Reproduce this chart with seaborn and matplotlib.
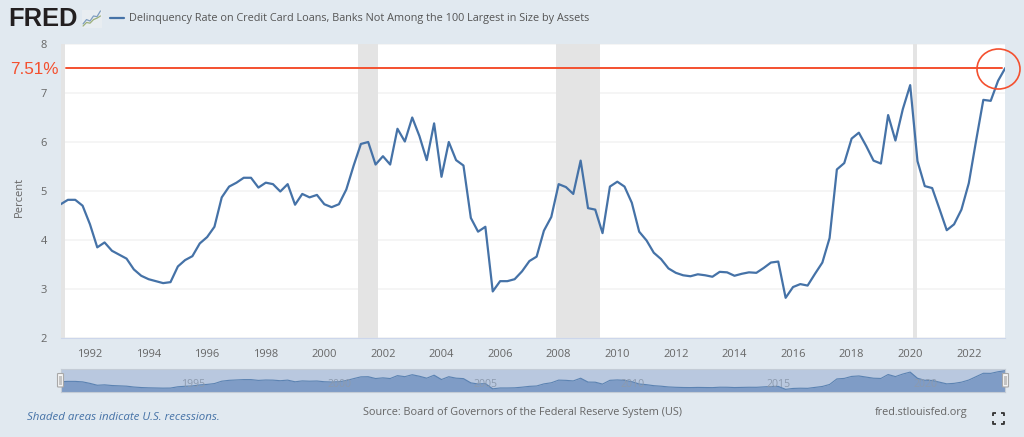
import pandas as pd
import matplotlib
matplotlib.use("Agg")
import matplotlib.pyplot as plt
import matplotlib.dates as mdates
from matplotlib.lines import Line2D
from matplotlib.patches import Ellipse, FancyBboxPatch, Rectangle
import seaborn as sns

# quarterly values, 1991 Q1 to 2023 Q2
rate = [
    4.73, 4.82, 4.82, 4.70, 4.32, 3.85, 3.95, 3.78,
    3.70, 3.62, 3.40, 3.27, 3.20, 3.16, 3.12, 3.14,
    3.46, 3.59, 3.67, 3.93, 4.06, 4.27, 4.87, 5.09,
    5.17, 5.27, 5.27, 5.07, 5.17, 5.14, 4.99, 5.14,
    4.72, 4.94, 4.87, 4.92, 4.73, 4.67, 4.73, 5.03,
    5.52, 5.96, 6.00, 5.54, 5.71, 5.54, 6.27, 6.01,
    6.50, 6.12, 5.63, 6.38, 5.29, 6.00, 5.63, 5.52,
    4.45, 4.17, 4.27, 2.95, 3.16, 3.16, 3.20, 3.36,
    3.57, 3.66, 4.19, 4.47, 5.14, 5.08, 4.94, 5.62,
    4.65, 4.62, 4.14, 5.09, 5.19, 5.09, 4.76, 4.17,
    3.99, 3.74, 3.61, 3.42, 3.33, 3.28, 3.26, 3.30,
    3.28, 3.25, 3.35, 3.34, 3.27, 3.31, 3.34, 3.33,
    3.43, 3.54, 3.56, 2.82, 3.04, 3.10, 3.07, 3.31,
    3.54, 4.04, 5.44, 5.57, 6.07, 6.19, 5.92, 5.62,
    5.56, 6.55, 6.03, 6.67, 7.16, 5.61, 5.10, 5.06,
    4.63, 4.20, 4.32, 4.62, 5.16, 6.02, 6.86, 6.84,
    7.25, 7.51,
]
dates = pd.date_range("1991-01-01", periods=len(rate), freq="QS")
df = pd.DataFrame({"date": dates, "rate": rate})

recession_start = ["1990-07-01", "2001-03-01", "2007-12-01", "2020-02-01"]
recession_end = ["1991-03-01", "2001-11-01", "2009-06-01", "2020-04-01"]
y_ticks = [2, 3, 4, 5, 6, 7, 8]
nav_labels = [1995, 2000, 2005, 2010, 2015, 2020]
latest = 7.51

title = "Delinquency Rate on Credit Card Loans, Banks Not Among the 100 Largest in Size by Assets"

# small trend glyph next to the logo
icon_x = [0, 1, 2, 3, 4, 5]
icon_blue = [1.0, 2.2, 1.8, 3.2, 3.0, 4.6]
icon_green = [0.4, 1.4, 1.2, 2.2, 2.6, 3.2]

W, H = 1024, 437
BG = "#E1E9F0"
BLUE = "#4572A7"
RED = "#F4502F"
TXT = "#666666"

sns.set_theme(style="white")
plt.rcParams["font.family"] = ["Open Sans", "DejaVu Sans"]


def fx(x):
    return x / W


def fy(y):
    return 1 - y / H


def box(x0, y0, x1, y1):
    return [fx(x0), fy(y1), (x1 - x0) / W, (y1 - y0) / H]


fig = plt.figure(figsize=(W / 100, H / 100), dpi=100, facecolor=BG)

# main chart
ax = fig.add_axes(box(60.7, 44, 1005.3, 338))
ax.set_facecolor("white")
ax.set_xlim(dates[0], dates[-1])
ax.set_ylim(2, 8)
ax.set_yticks(y_ticks)
ax.xaxis.set_major_locator(mdates.YearLocator(2))
ax.xaxis.set_major_formatter(mdates.DateFormatter("%Y"))
ax.grid(axis="y", color="#F3F3F3", lw=1.2, zorder=0)
for start, end in zip(recession_start, recession_end):
    ax.axvspan(pd.Timestamp(start), pd.Timestamp(end), color="#E4E4E4", lw=0, zorder=1)
ax.axhline(latest, xmin=0.006, xmax=0.997, color=RED, lw=1.4, zorder=2)
sns.lineplot(data=df, x="date", y="rate", ax=ax, color=BLUE, lw=1.6, zorder=3)
ax.set_xlabel("")
ax.set_ylabel("Percent", fontsize=8, color=TXT, labelpad=0)
ax.yaxis.set_label_coords((25 - 60.7) / 944.6, 0.48)
ax.tick_params(axis="x", length=6.5, width=0.8, color="#CCD6EB", labelsize=8,
               labelcolor=TXT, pad=1.5)
ax.tick_params(axis="y", length=0, labelsize=8, labelcolor=TXT, pad=10)
sns.despine(ax=ax, left=True, top=True, right=True)
ax.spines["bottom"].set_color("#CCD6EB")
ax.spines["bottom"].set_linewidth(0.8)

# navigator strip
nav = fig.add_axes(box(60.7, 369, 1005.3, 391.7))
nav.set_facecolor("#B9C8DF")
nav.set_xlim(dates[0], dates[-1])
nav.set_ylim(2.22, 7.94)
nav.fill_between(df["date"], df["rate"], 2.22, color="#7F9CC6", lw=0, zorder=2)
sns.lineplot(data=df, x="date", y="rate", ax=nav, color=BLUE, lw=0.8, alpha=0.8, zorder=3)
nav.set_xticks([])
nav.set_yticks([])
nav.set_xlabel("")
nav.set_ylabel("")
for spine in nav.spines.values():
    spine.set_color("#C4CCD6")
    spine.set_linewidth(0.8)
for year in nav_labels:
    nav.annotate(str(year), (pd.Timestamp(f"{year}-01-01"), 0), xycoords=("data", "axes fraction"),
                 xytext=(3, 2), textcoords="offset pixels", fontsize=7.6, color="#8C9AAE",
                 ha="left", va="bottom", zorder=4)

for x0 in [57.5, 1002.5]:
    fig.add_artist(FancyBboxPatch((fx(x0), fy(387)), 6 / W, 13.5 / H,
                                  boxstyle="round,pad=0,rounding_size=0.001",
                                  fc="#F4F4F4", ec="#A8A8A8", lw=0.8,
                                  transform=fig.transFigure, zorder=6))
    fig.add_artist(Rectangle((fx(x0 + 1.7), fy(384.5)), 2.6 / W, 8.5 / H, fc="#C4C4C4",
                             lw=0, transform=fig.transFigure, zorder=7))

# header
fig.text(fx(8), fy(18.5), "FRED", family="Liberation Sans", weight="bold", fontsize=18.4,
         color="#231F20", va="center", ha="left")
icon = fig.add_axes(box(82, 9.5, 101.5, 27.5))
icon.set_facecolor("#E8EDF1")
sns.lineplot(x=icon_x, y=icon_blue, ax=icon, color="#7E9DBF", lw=0.9)
sns.lineplot(x=icon_x, y=icon_green, ax=icon, color="#9DB07A", lw=0.9)
icon.set_xlim(-0.3, 5.3)
icon.set_ylim(0, 5)
icon.set_xticks([])
icon.set_yticks([])
icon.set_xlabel("")
icon.set_ylabel("")
sns.despine(ax=icon, left=True, bottom=True)
fig.add_artist(Line2D([fx(110), fx(124)], [fy(18), fy(18)], color=BLUE, lw=1.6))
fig.text(fx(129), fy(18), title, fontsize=7.8, color="#555555", va="center", ha="left")

# callout
fig.text(fx(10), fy(70), "7.51%", family="Liberation Sans", fontsize=12.3, color=RED,
         va="center", ha="left")
fig.add_artist(Ellipse((fx(998.5), fy(69)), 43 / W, 40 / H, fill=False, ec=RED, lw=1.2,
                       transform=fig.transFigure, zorder=8))

# footer
fig.text(fx(27), fy(417.5), "Shaded areas indicate U.S. recessions.", fontsize=8.25,
         style="italic", color=BLUE, va="center", ha="left")
fig.text(fx(363), fy(413), "Source: Board of Governors of the Federal Reserve System (US)",
         fontsize=7.8, color=TXT, va="center", ha="left")
fig.text(fx(875), fy(413), "fred.stlouisfed.org", fontsize=7.8, color=TXT, va="center", ha="left")

# fullscreen glyph
for cx, sx in [(992.5, 1), (1003.5, -1)]:
    for cy, sy in [(412.5, 1), (423.5, -1)]:
        fig.add_artist(Line2D([fx(cx + 3 * sx), fx(cx), fx(cx)],
                              [fy(cy), fy(cy), fy(cy + 3 * sy)],
                              color="#333333", lw=1.3, solid_capstyle="butt"))

fig.savefig("out.png", dpi=100, facecolor=BG)
